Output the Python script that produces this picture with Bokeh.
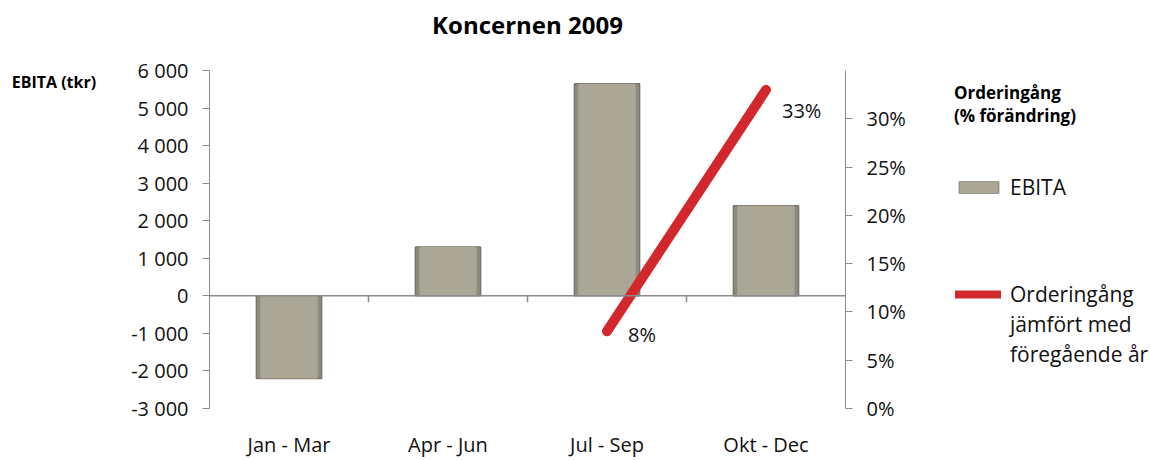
from bokeh.plotting import figure
from bokeh.layouts import row
from bokeh.models import (Range1d, LinearAxis, SingleIntervalTicker, NumeralTickFormatter,
                          CustomJSTickFormatter, Span, Legend, LegendItem, LabelSet,
                          ColumnDataSource, Title)
from bokeh.core.properties import value
from bokeh.embed import file_html
from bokeh.resources import INLINE

categories = ["Jan - Mar", "Apr - Jun", "Jul - Sep", "Okt - Dec"]
ebita = [-2200, 1300, 5650, 2400]
order_cats = ["Jul - Sep", "Okt - Dec"]
order_pct = [0.08, 0.33]
order_labels = ["8%", "33%"]
legend_bar_label = "EBITA"
legend_line_label = ["Orderingång", "jämfört med", "föregående år"]
right_title = "Orderingång\n(% förändring)"
left_title = "EBITA (tkr)"
chart_title = "Koncernen 2009"

FONT = "Open Sans"
RED = "#d2282b"
TXT = "#111111"
OUTER = dict(fill_color="#8e8b80", line_color="#77756c", line_width=1.5)
INNER = dict(fill_color="#aba797", line_color=None)
NAN = float("nan")

H = 460
MAIN_W = 930
LEG_W = 220

p = figure(x_range=categories, y_range=Range1d(-3000, 6000), width=MAIN_W, height=H,
           output_backend="svg", toolbar_location=None, title=None,
           min_border_left=209, min_border_right=MAIN_W - 845, min_border_top=70,
           min_border_bottom=H - 411)
p.outline_line_color = None
p.xgrid.grid_line_color = None
p.ygrid.grid_line_color = None

# spacer (closest to the frame) then the chart title above it
p.add_layout(Title(text=" ", text_font_size="1px", standoff=20), "above")
p.add_layout(Title(text=chart_title, align="center", vertical_align="top", standoff=10,
                   text_font=FONT, text_font_size="24px", text_font_style="bold",
                   text_color="#000000"), "above")

# left axis
ya = p.yaxis[0]
ya.ticker = SingleIntervalTicker(interval=1000)
ya.formatter = CustomJSTickFormatter(code="""
const s = Math.abs(tick).toFixed(0).replace(/\\B(?=(\\d{3})+(?!\\d))/g, " ");
return (tick < 0 ? "-" : "") + s;
""")
ya.axis_line_color = "#8c8c8c"
ya.major_tick_line_color = "#8c8c8c"
ya.major_tick_out = 7
ya.major_tick_in = 0
ya.minor_tick_line_color = None
ya.major_label_standoff = 14
ya.major_label_text_font = FONT
ya.major_label_text_font_size = "20px"
ya.major_label_text_color = TXT
ya.axis_label = "\n" + left_title
ya.axis_label_text_font = FONT
ya.axis_label_text_font_size = "16px"
ya.axis_label_text_font_style = "bold"
ya.axis_label_text_color = "#000000"
ya.axis_label_text_line_height = 1.0
ya.axis_label_standoff = 32
ya.axis_label_orientation = "horizontal"
ya.axis_label_align = "end"

# right axis
p.extra_y_ranges = {"pct": Range1d(0, 0.35)}
ra = LinearAxis(y_range_name="pct", ticker=SingleIntervalTicker(interval=0.05),
                formatter=NumeralTickFormatter(format="0%"))
ra.axis_line_color = "#8c8c8c"
ra.major_tick_line_color = "#8c8c8c"
ra.major_tick_out = 7
ra.major_tick_in = 0
ra.minor_tick_line_color = None
ra.major_label_standoff = 14
ra.major_label_text_font = FONT
ra.major_label_text_font_size = "20px"
ra.major_label_text_color = TXT
p.add_layout(ra, "right")

# x axis
xa = p.xaxis[0]
xa.axis_line_color = None
xa.major_tick_line_color = None
xa.major_tick_out = 0
xa.major_label_standoff = 22
xa.major_label_text_font = FONT
xa.major_label_text_font_size = "20px"
xa.major_label_text_color = TXT

# zero line and category ticks
p.add_layout(Span(location=0, dimension="width", line_color="#8c8c8c", line_width=1.5))
bounds = [(c, 0.5) for c in categories[:-1]]
p.segment(x0=bounds, x1=bounds, y0=[0] * len(bounds), y1=[-170] * len(bounds),
          line_color="#8c8c8c", line_width=1.5)

# bars (two layers for a bevelled look)
p.vbar(x=categories, top=ebita, bottom=0, width=0.41, **OUTER)
p.vbar(x=categories, top=ebita, bottom=0, width=0.36, **INNER)

# line
src = ColumnDataSource(dict(x=order_cats, y=order_pct, t=order_labels,
                            xo=[21, 16], yo=[-3, -21]))
p.line(x="x", y="y", source=src, y_range_name="pct", line_color=RED,
       line_width=10, line_cap="round")
p.add_layout(LabelSet(x="x", y="y", text="t", source=src, y_range_name="pct",
                      x_offset="xo", y_offset="yo", text_baseline="middle",
                      text_font=value(FONT), text_font_size="20px", text_color=TXT))

# legend panel: a separate figure (its frame is aligned with the main frame by the row)
lg = figure(width=LEG_W, height=H, output_backend="svg", toolbar_location=None, title=None,
            x_range=Range1d(0, 1), y_range=Range1d(0, 1),
            x_axis_location=None, y_axis_location=None,
            min_border=0, min_border_left=0, min_border_right=0,
            min_border_top=0, min_border_bottom=0)
lg.grid.visible = False
lg.outline_line_color = None
# legend proxies with no drawable data
lb_out = lg.vbar(x="x", top="top", source=ColumnDataSource(dict(x=[NAN], top=[NAN])),
                 width=0.1, **OUTER)
lb_in = lg.vbar(x="x", top="top", source=ColumnDataSource(dict(x=[NAN], top=[NAN])),
                width=0.1, **INNER)
ll = lg.line(x=[NAN], y=[NAN], line_color=RED, line_width=8, line_cap="round")
blank = lg.line(x=[NAN], y=[NAN], line_alpha=0)

common = dict(padding=0, margin=0, border_line_color=None, background_fill_alpha=0,
              label_text_font=FONT, label_text_font_size="21px", label_text_color=TXT,
              label_height=30, label_text_line_height=1.2)

legA = Legend(items=[LegendItem(label=legend_bar_label, renderers=[lb_out, lb_in])],
              location=(24, 206), glyph_width=49, glyph_height=14, label_standoff=7,
              title=right_title, title_text_font=FONT, title_text_font_size="17px",
              title_text_font_style="bold", title_text_color="#000000",
              title_text_line_height=1.35, title_standoff=45, **common)
legB = Legend(items=[LegendItem(label=legend_line_label[0], renderers=[ll]),
                     LegendItem(label=legend_line_label[1], renderers=[blank]),
                     LegendItem(label=legend_line_label[2], renderers=[blank])],
              location=(25, 39), glyph_width=46, glyph_height=30, label_standoff=9,
              spacing=0, **common)
lg.add_layout(legA)
lg.add_layout(legB)

layout = row(p, lg)
open("out.html", "w").write(file_html(layout, INLINE))
